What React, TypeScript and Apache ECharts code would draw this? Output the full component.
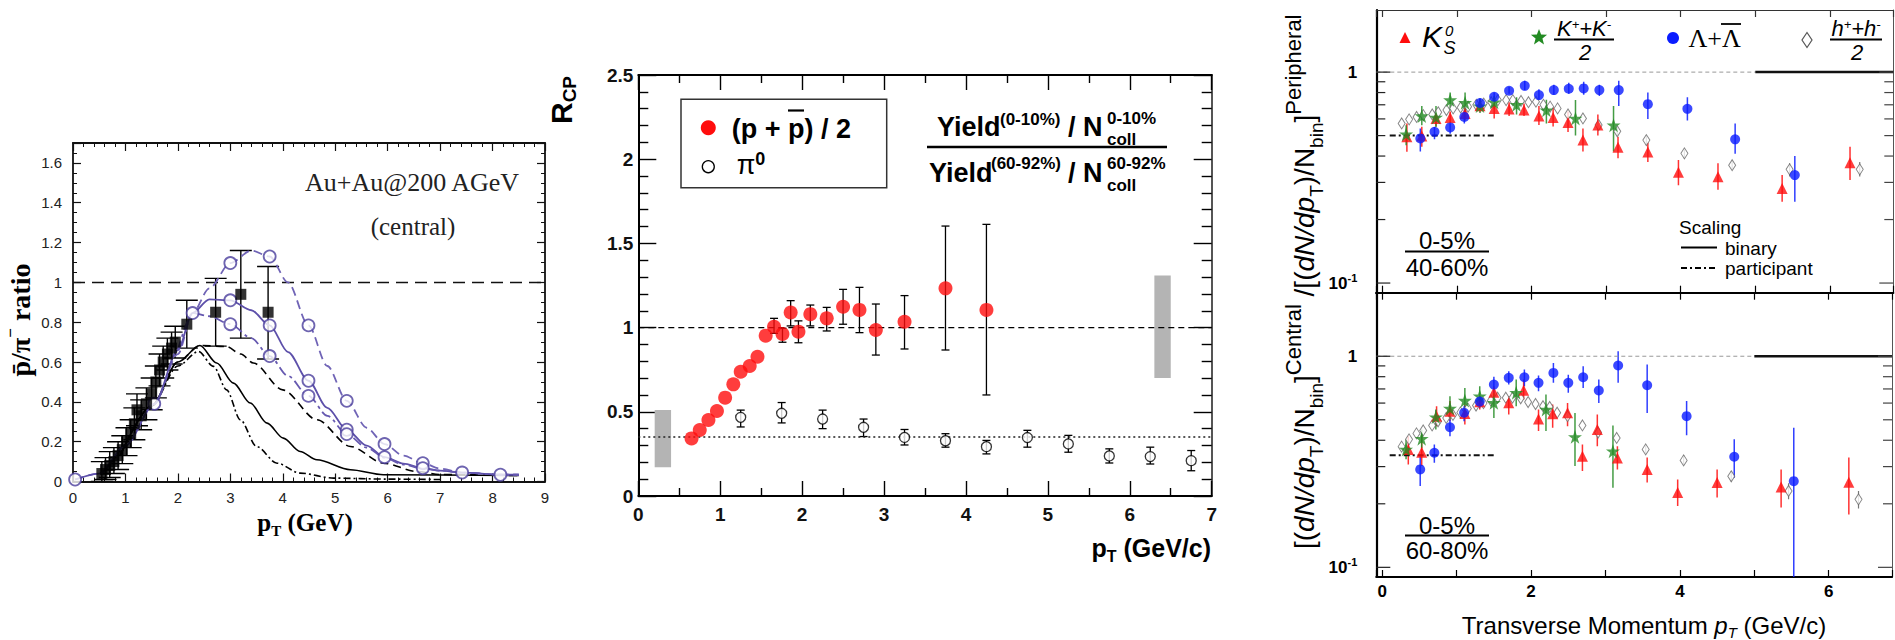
import React, { useEffect, useRef } from "react";
import * as echarts from "echarts";

const SANS = '"Liberation Sans", Arial, Helvetica, sans-serif';
const SERIF = '"Liberation Serif", "Times New Roman", serif';

// ================= Panel 1 : pbar / pi- ratio =================
const P1_SQ_X = [0.55, 0.62, 0.7, 0.78, 0.86, 0.94, 1.02, 1.1, 1.17, 1.22, 1.3, 1.4, 1.5, 1.58, 1.65, 1.72, 1.8, 1.88, 1.95, 2.17, 2.72, 3.2, 3.72];
const P1_SQ_Y = [0.04, 0.06, 0.08, 0.1, 0.13, 0.16, 0.2, 0.24, 0.29, 0.36, 0.33, 0.39, 0.44, 0.5, 0.56, 0.6, 0.64, 0.67, 0.7, 0.79, 0.85, 0.94, 0.85];
const P1_SQ_LO = [0.0, 0.01, 0.02, 0.04, 0.06, 0.09, 0.13, 0.17, 0.21, 0.28, 0.26, 0.31, 0.36, 0.42, 0.48, 0.52, 0.56, 0.59, 0.62, 0.67, 0.68, 0.72, 0.615];
const P1_SQ_HI = [0.1, 0.12, 0.15, 0.17, 0.2, 0.23, 0.27, 0.31, 0.37, 0.44, 0.41, 0.47, 0.52, 0.58, 0.64, 0.68, 0.72, 0.75, 0.78, 0.91, 1.02, 1.16, 1.08];

const P1_PU_X = [0.04, 0.5, 1.0, 1.55, 2.0, 2.28, 2.6, 3.0, 3.4, 3.75, 4.1, 4.49, 4.85, 5.22, 5.6, 5.94, 6.3, 6.67, 7.0, 7.42, 8.15, 8.5];
const P1_PUP_Y = [0.01, 0.04, 0.18, 0.39, 0.64, 0.846, 0.97, 1.097, 1.16, 1.13, 1.0, 0.784, 0.58, 0.405, 0.27, 0.188, 0.13, 0.092, 0.065, 0.045, 0.034, 0.034];
const P1_PMID_Y = [0.01, 0.04, 0.18, 0.39, 0.66, 0.846, 0.915, 0.91, 0.86, 0.784, 0.65, 0.506, 0.37, 0.26, 0.18, 0.122, 0.09, 0.067, 0.055, 0.045, 0.034, 0.034];
const P1_PLOW_X = [2.0, 2.28, 2.6, 3.0, 3.4, 3.75, 4.1, 4.49, 4.85, 5.22, 5.6, 5.94, 6.3, 6.67, 7.0, 7.42, 8.15, 8.5];
const P1_PLOW_Y = [0.66, 0.846, 0.83, 0.79, 0.72, 0.63, 0.53, 0.43, 0.33, 0.238, 0.17, 0.12, 0.085, 0.065, 0.055, 0.045, 0.034, 0.034];
const P1_MK_X = [0.04, 1.55, 2.28, 3.0, 3.0, 3.0, 3.75, 3.75, 3.75, 4.49, 4.49, 4.49, 5.22, 5.22, 5.22, 5.94, 5.94, 6.67, 6.67, 7.42, 8.15];
const P1_MK_Y = [0.01, 0.39, 0.846, 1.097, 0.91, 0.79, 1.13, 0.784, 0.63, 0.784, 0.506, 0.43, 0.405, 0.26, 0.238, 0.188, 0.122, 0.092, 0.067, 0.045, 0.034];

const P1_BD_X = [0.9, 1.5, 2.0, 2.42, 2.93, 3.2, 3.44, 4.0, 4.65, 5.29, 5.92, 6.56, 7.0, 8.5];
const P1_BD_Y = [0.13, 0.38, 0.6, 0.683, 0.678, 0.64, 0.595, 0.46, 0.31, 0.176, 0.092, 0.05, 0.035, 0.03];
const P1_BS_X = [0.9, 1.5, 2.0, 2.42, 2.74, 3.06, 3.38, 3.7, 4.01, 4.33, 4.65, 5.29, 5.92, 8.5];
const P1_BS_Y = [0.13, 0.38, 0.6, 0.683, 0.595, 0.494, 0.394, 0.293, 0.218, 0.151, 0.109, 0.059, 0.034, 0.03];
const P1_BDD_X = [0.9, 1.5, 2.0, 2.39, 2.68, 2.93, 3.19, 3.5, 3.89, 4.33, 4.97, 6.0, 7.0];
const P1_BDD_Y = [0.13, 0.38, 0.58, 0.653, 0.578, 0.46, 0.31, 0.176, 0.092, 0.042, 0.017, 0.012, 0.01];
const P1_REF_X = [0, 9];
const P1_REF_Y = [1, 1];

// ================= Panel 2 : R_CP =================
const P2_P_X = [0.65, 0.75, 0.856, 0.96, 1.06, 1.16, 1.25, 1.36, 1.455, 1.555, 1.657, 1.76, 1.86, 1.955, 2.1, 2.3, 2.5, 2.7, 2.9, 3.25, 3.75, 4.25];
const P2_P_Y = [0.342, 0.392, 0.451, 0.505, 0.584, 0.663, 0.738, 0.772, 0.827, 0.952, 1.005, 0.962, 1.09, 0.976, 1.08, 1.055, 1.124, 1.105, 0.986, 1.035, 1.233, 1.105];
const P2_P_LO = [0.342, 0.392, 0.451, 0.505, 0.584, 0.663, 0.738, 0.772, 0.827, 0.952, 0.966, 0.913, 1.01, 0.91, 1.01, 0.98, 1.02, 0.97, 0.837, 0.873, 0.867, 0.6];
const P2_P_HI = [0.342, 0.392, 0.451, 0.505, 0.584, 0.663, 0.738, 0.772, 0.827, 0.952, 1.055, 0.996, 1.16, 1.04, 1.134, 1.12, 1.227, 1.239, 1.14, 1.19, 1.603, 1.613];
const P2_PI_X = [1.25, 1.75, 2.25, 2.75, 3.25, 3.75, 4.25, 4.75, 5.25, 5.75, 6.25, 6.75];
const P2_PI_Y = [0.467, 0.491, 0.457, 0.408, 0.348, 0.328, 0.293, 0.347, 0.309, 0.238, 0.234, 0.21];
const P2_PI_LO = [0.41, 0.434, 0.4, 0.353, 0.303, 0.29, 0.25, 0.29, 0.26, 0.196, 0.19, 0.15];
const P2_PI_HI = [0.51, 0.555, 0.51, 0.457, 0.395, 0.37, 0.33, 0.39, 0.36, 0.28, 0.29, 0.27];
const P2_SYS_X0 = [0.2, 6.3];
const P2_SYS_X1 = [0.4, 6.5];
const P2_SYS_Y0 = [0.17, 0.7];
const P2_SYS_Y1 = [0.51, 1.31];
const P2_ONE_X = [0, 7];
const P2_ONE_Y = [1, 1];
const P2_PI_REF_X = [0, 7];
const P2_PI_REF_Y = [0.35, 0.35];

// ================= Panel 3 : strange particles (log) =================
const X3_MIN = -0.08;
const X3_MAX = 6.85;
const LOG_TICKS = [0.1, 0.2, 0.3, 0.4, 0.5, 0.6, 0.7, 0.8, 0.9, 1];

// top: 0-5% / 40-60%
const T_K0_X = [0.33, 0.53, 0.72, 0.91, 1.11, 1.31, 1.5, 1.7, 1.9, 2.1, 2.29, 2.49, 2.69, 2.89, 3.16, 3.56, 3.97, 4.5, 5.36, 6.27];
const T_K0_Y = [0.494, 0.498, 0.603, 0.61, 0.637, 0.692, 0.673, 0.668, 0.661, 0.619, 0.61, 0.577, 0.476, 0.561, 0.44, 0.418, 0.335, 0.319, 0.281, 0.372];
const T_K0_LO = [0.419, 0.443, 0.553, 0.57, 0.59, 0.65, 0.603, 0.62, 0.62, 0.561, 0.553, 0.52, 0.42, 0.5, 0.39, 0.375, 0.291, 0.277, 0.243, 0.308];
const T_K0_HI = [0.571, 0.551, 0.661, 0.65, 0.69, 0.74, 0.737, 0.72, 0.71, 0.69, 0.68, 0.65, 0.54, 0.63, 0.494, 0.463, 0.383, 0.37, 0.325, 0.443];
const T_KC_X = [0.32, 0.53, 0.72, 0.91, 1.11, 1.31, 1.5, 1.8, 2.2, 2.59, 3.1];
const T_KC_Y = [0.508, 0.619, 0.61, 0.737, 0.716, 0.69, 0.72, 0.7, 0.66, 0.603, 0.56];
const T_KC_LO = [0.45, 0.56, 0.55, 0.66, 0.64, 0.64, 0.67, 0.63, 0.57, 0.5, 0.42];
const T_KC_HI = [0.56, 0.69, 0.69, 0.8, 0.8, 0.75, 0.77, 0.76, 0.74, 0.737, 0.69];
const T_LA_X = [0.51, 0.7, 0.91, 1.1, 1.31, 1.5, 1.7, 1.91, 2.1, 2.3, 2.5, 2.7, 2.91, 3.17, 3.56, 4.09, 4.73, 5.53];
const T_LA_Y = [0.485, 0.521, 0.547, 0.613, 0.714, 0.764, 0.816, 0.861, 0.778, 0.822, 0.834, 0.837, 0.822, 0.822, 0.705, 0.67, 0.48, 0.325];
const T_LA_LO = [0.42, 0.48, 0.51, 0.57, 0.68, 0.72, 0.79, 0.82, 0.74, 0.78, 0.79, 0.78, 0.77, 0.69, 0.6, 0.59, 0.41, 0.243];
const T_LA_HI = [0.54, 0.55, 0.57, 0.66, 0.75, 0.8, 0.85, 0.91, 0.83, 0.87, 0.89, 0.9, 0.87, 0.91, 0.8, 0.76, 0.57, 0.4];
const H_X = [0.26, 0.36, 0.46, 0.55, 0.67, 0.75, 0.86, 0.95, 1.05, 1.15, 1.26, 1.36, 1.46, 1.55, 1.66, 1.75, 1.86, 1.96, 2.06, 2.16, 2.25, 2.35, 2.49, 2.69, 2.9, 3.15, 3.54, 4.05, 4.69, 5.46, 6.4];
const T_H_Y = [0.571, 0.597, 0.613, 0.625, 0.63, 0.645, 0.661, 0.673, 0.68, 0.686, 0.7, 0.709, 0.72, 0.737, 0.737, 0.737, 0.73, 0.72, 0.724, 0.7, 0.686, 0.673, 0.63, 0.603, 0.561, 0.524, 0.476, 0.412, 0.362, 0.346, 0.346];
const T_HE_X = [3.15, 3.54, 4.05, 4.69, 5.46, 6.4];
const T_HE_LO = [0.5, 0.45, 0.39, 0.345, 0.32, 0.32];
const T_HE_HI = [0.55, 0.5, 0.43, 0.38, 0.37, 0.375];
const T_PART_X = [0.1, 1.5];
const T_PART_Y = [0.5, 0.5];

// bottom: 0-5% / 60-80%
const B_K0_X = [0.35, 0.53, 0.73, 0.91, 1.11, 1.31, 1.5, 1.7, 1.9, 2.1, 2.29, 2.49, 2.69, 2.89, 3.16, 3.56, 3.97, 4.5, 5.36, 6.27];
const B_K0_Y = [0.362, 0.351, 0.52, 0.549, 0.535, 0.608, 0.676, 0.602, 0.69, 0.505, 0.534, 0.54, 0.336, 0.45, 0.33, 0.291, 0.226, 0.252, 0.24, 0.253];
const B_K0_LO = [0.307, 0.302, 0.466, 0.492, 0.475, 0.56, 0.635, 0.53, 0.624, 0.442, 0.458, 0.466, 0.286, 0.375, 0.291, 0.252, 0.195, 0.214, 0.192, 0.178];
const B_K0_HI = [0.418, 0.426, 0.58, 0.613, 0.59, 0.647, 0.721, 0.647, 0.776, 0.56, 0.59, 0.6, 0.382, 0.53, 0.375, 0.331, 0.261, 0.291, 0.291, 0.331];
const B_KC_X = [0.32, 0.53, 0.72, 0.91, 1.11, 1.31, 1.5, 1.8, 2.2, 2.59, 3.1];
const B_KC_Y = [0.362, 0.407, 0.515, 0.566, 0.617, 0.647, 0.602, 0.672, 0.56, 0.415, 0.355];
const B_KC_LO = [0.325, 0.368, 0.45, 0.501, 0.539, 0.58, 0.51, 0.58, 0.442, 0.302, 0.238];
const B_KC_HI = [0.404, 0.45, 0.56, 0.647, 0.708, 0.721, 0.671, 0.776, 0.659, 0.539, 0.47];
const B_LA_X = [0.51, 0.7, 0.91, 1.1, 1.31, 1.5, 1.7, 1.91, 2.1, 2.3, 2.5, 2.7, 2.91, 3.17, 3.56, 4.09, 4.73, 5.53];
const B_LA_Y = [0.291, 0.349, 0.461, 0.54, 0.61, 0.734, 0.79, 0.795, 0.748, 0.834, 0.748, 0.795, 0.688, 0.904, 0.729, 0.52, 0.334, 0.256];
const B_LA_LO = [0.243, 0.313, 0.418, 0.492, 0.57, 0.671, 0.735, 0.721, 0.683, 0.748, 0.671, 0.708, 0.6, 0.748, 0.539, 0.422, 0.266, 0.08];
const B_LA_HI = [0.343, 0.382, 0.501, 0.58, 0.647, 0.799, 0.85, 0.865, 0.81, 0.93, 0.818, 0.897, 0.776, 1.056, 0.913, 0.613, 0.404, 0.458];
const B_H_Y = [0.373, 0.404, 0.431, 0.445, 0.47, 0.492, 0.51, 0.527, 0.542, 0.566, 0.584, 0.6, 0.617, 0.636, 0.636, 0.636, 0.632, 0.607, 0.594, 0.58, 0.575, 0.54, 0.52, 0.47, 0.435, 0.41, 0.362, 0.321, 0.27, 0.23, 0.21];
const B_HE_X = [3.54, 4.05, 4.69, 5.46, 6.4];
const B_HE_LO = [0.345, 0.305, 0.255, 0.21, 0.19];
const B_HE_HI = [0.38, 0.34, 0.285, 0.25, 0.23];
const B_PART_X = [0.1, 1.5];
const B_PART_Y = [0.34, 0.34];

const REF_DASH_X = [X3_MIN, 5.0];
const REF_SOLID_X = [5.0, X3_MAX];
const REF_Y = [1, 1];

// ================= helpers =================
const pairs = (xs: number[], ys: number[]) => xs.map((x, i) => [x, ys[i]]);

function errSeries(xi: number, yi: number, xs: number[], lo: number[], hi: number[], color: string, cap: number, width: number, opacity = 1) {
  return {
    type: "custom", xAxisIndex: xi, yAxisIndex: yi, silent: true, z: 2, clip: true,
    data: xs.map((x, i) => [x, lo[i], hi[i]]),
    encode: { x: 0, y: [1, 2] },
    renderItem: (_p: any, api: any) => {
      const x = api.value(0), l = api.value(1), h = api.value(2);
      if (l === h) return { type: "group", children: [] };
      const a = api.coord([x, l]), b = api.coord([x, h]);
      const style = { stroke: color, lineWidth: width, opacity };
      const ch: any[] = [{ type: "line", shape: { x1: a[0], y1: a[1], x2: b[0], y2: b[1] }, style }];
      if (cap > 0) {
        ch.push({ type: "line", shape: { x1: a[0] - cap, y1: a[1], x2: a[0] + cap, y2: a[1] }, style });
        ch.push({ type: "line", shape: { x1: b[0] - cap, y1: b[1], x2: b[0] + cap, y2: b[1] }, style });
      }
      return { type: "group", children: ch };
    },
  };
}

function scat(xi: number, yi: number, xs: number[], ys: number[], symbol: string, size: any, itemStyle: any, z = 4) {
  return { type: "scatter", xAxisIndex: xi, yAxisIndex: yi, symbol, symbolSize: size, itemStyle, z, silent: true, data: pairs(xs, ys) };
}

function lineS(xi: number, yi: number, xs: number[], ys: number[], color: string, width: number, type: any, smooth: any = false, z = 3) {
  return {
    type: "line", xAxisIndex: xi, yAxisIndex: yi, silent: true, z, symbol: "none", smooth, smoothMonotone: "x",
    lineStyle: { color, width, type }, data: pairs(xs, ys),
  };
}

function logTicks(xi: number, yi: number) {
  return {
    type: "custom", xAxisIndex: xi, yAxisIndex: yi, silent: true, z: 6, clip: false,
    data: LOG_TICKS.map((v) => [X3_MIN, v]),
    renderItem: (_p: any, api: any) => {
      const v = api.value(1);
      const major = Math.abs(v - 1) < 1e-9 || Math.abs(v - 0.1) < 1e-9;
      const len = major ? 14 : 9;
      const a = api.coord([X3_MIN, v]);
      const b = api.coord([X3_MAX, v]);
      return {
        type: "group",
        children: [
          { type: "line", shape: { x1: a[0], y1: a[1], x2: a[0] + len, y2: a[1] }, style: { stroke: "#222", lineWidth: 1.2 } },
          { type: "line", shape: { x1: b[0], y1: b[1], x2: b[0] - len, y2: b[1] }, style: { stroke: "#444", lineWidth: 1.2 } },
        ],
      };
    },
  };
}

function boxSeries(xi: number, yi: number) {
  return {
    type: "custom", xAxisIndex: xi, yAxisIndex: yi, silent: true, z: 1,
    data: P2_SYS_X0.map((x, i) => [x, P2_SYS_Y0[i], P2_SYS_X1[i], P2_SYS_Y1[i]]),
    renderItem: (_p: any, api: any) => {
      const a = api.coord([api.value(0), api.value(3)]);
      const b = api.coord([api.value(2), api.value(1)]);
      return { type: "rect", shape: { x: a[0], y: a[1], width: b[0] - a[0], height: b[1] - a[1] }, style: { fill: "#b4b4b4" } };
    },
  };
}

const T = (x: number, y: number, text: string, style: any = {}, rotation = 0) => ({
  type: "text", x, y, rotation, silent: true, z: 100,
  style: { text, fill: "#000", fontFamily: SANS, fontSize: 16, align: "left", verticalAlign: "middle", ...style },
});
const L = (x1: number, y1: number, x2: number, y2: number, w = 1.5, dash: any = null, color = "#000") => ({
  type: "line", silent: true, z: 100, shape: { x1, y1, x2, y2 }, style: { stroke: color, lineWidth: w, lineDash: dash },
});

function starPts(cx: number, cy: number, R: number, r: number) {
  const pts: number[][] = [];
  for (let i = 0; i < 10; i++) {
    const ang = -Math.PI / 2 + (i * Math.PI) / 5;
    const rad = i % 2 === 0 ? R : r;
    pts.push([cx + rad * Math.cos(ang), cy + rad * Math.sin(ang)]);
  }
  return pts;
}

const STAR = "path://M12,0 L14.9,8.6 L24,8.6 L16.6,14 L19.4,22.7 L12,17.3 L4.6,22.7 L7.4,14 L0,8.6 L9.1,8.6 Z";
const RED = "#ff0d0d";
const GREEN = "#238b23";
const BLUE = "#0a1cff";
const PURPLE = "#5d50aa";

function buildOption() {
  const noSplit = { splitLine: { show: false }, minorSplitLine: { show: false } };
  const line = (w: number, c = "#000") => ({ show: true, onZero: false, lineStyle: { color: c, width: w } });

  const p1Tick = { show: true, inside: true, length: 8, lineStyle: { color: "#111", width: 1.2 } };
  const p1Lab = { margin: 8, fontSize: 15, color: "#222", fontFamily: SANS };
  const p2Tick = (len: number) => ({ show: true, inside: true, length: len, lineStyle: { color: "#000", width: 1.4 } });
  const p2Lab = { margin: 9, fontSize: 19, fontWeight: "bold", color: "#111", fontFamily: SANS };
  const p3xfmt = (v: number) => {
    const r = Math.round(v);
    return Math.abs(v - r) < 1e-6 && r % 2 === 0 ? String(Math.abs(r)) : "";
  };
  const logFmt = (v: number) => {
    if (Math.abs(v - 1) < 1e-6) return "{a|1}";
    if (Math.abs(v - 0.1) < 1e-6) return "{a|10}{b|-1}";
    return "";
  };
  const logRich = {
    a: { fontSize: 17, fontWeight: "bold", fontFamily: SANS, color: "#000", lineHeight: 22 },
    b: { fontSize: 11, fontWeight: "bold", fontFamily: SANS, color: "#000", verticalAlign: "top", lineHeight: 12 },
  };

  const xAxis = [
    { gridIndex: 0, type: "value", position: "bottom", min: 0, max: 9, interval: 1, axisLine: line(1.8, "#111"), axisTick: p1Tick,
      minorTick: { show: true, splitNumber: 5, length: 4, lineStyle: { color: "#111", width: 1 } }, axisLabel: p1Lab, ...noSplit },
    { gridIndex: 0, type: "value", position: "top", min: 0, max: 9, interval: 1, axisLine: line(1.8, "#111"), axisTick: p1Tick,
      minorTick: { show: true, splitNumber: 5, length: 4, lineStyle: { color: "#111", width: 1 } }, axisLabel: { show: false }, ...noSplit },
    { gridIndex: 1, type: "value", position: "bottom", min: 0, max: 7, interval: 1, axisLine: line(2), axisTick: p2Tick(15),
      minorTick: { show: true, splitNumber: 2, length: 8, lineStyle: { color: "#000", width: 1.4 } }, axisLabel: p2Lab, ...noSplit },
    { gridIndex: 1, type: "value", position: "top", min: 0, max: 7, interval: 1, axisLine: line(2), axisTick: p2Tick(15),
      minorTick: { show: true, splitNumber: 2, length: 8, lineStyle: { color: "#000", width: 1.4 } }, axisLabel: { show: false }, ...noSplit },
    { gridIndex: 2, type: "value", position: "bottom", min: X3_MIN, max: X3_MAX, splitNumber: 7, axisLine: line(2.2),
      axisTick: { show: true, inside: true, length: 7, lineStyle: { color: "#000", width: 1.2 } }, axisLabel: { show: false }, ...noSplit },
    { gridIndex: 2, type: "value", position: "top", min: X3_MIN, max: X3_MAX, splitNumber: 7, axisLine: line(1, "#333"),
      axisTick: { show: true, inside: true, length: 7, lineStyle: { color: "#333", width: 1.2 } }, axisLabel: { show: false }, ...noSplit },
    { gridIndex: 3, type: "value", position: "bottom", min: X3_MIN, max: X3_MAX, splitNumber: 7, axisLine: line(2.2),
      axisTick: { show: true, inside: true, length: 7, lineStyle: { color: "#000", width: 1.2 } },
      axisLabel: { margin: 6, fontSize: 17, fontWeight: "bold", color: "#000", fontFamily: SANS, formatter: p3xfmt }, ...noSplit },
    { gridIndex: 3, type: "value", position: "top", min: X3_MIN, max: X3_MAX, splitNumber: 7, axisLine: line(2.2),
      axisTick: { show: true, inside: true, length: 7, lineStyle: { color: "#000", width: 1.2 } }, axisLabel: { show: false }, ...noSplit },
  ];

  const yAxis = [
    { gridIndex: 0, type: "value", position: "left", min: 0, max: 1.7, interval: 0.2, axisLine: line(1.8, "#111"), axisTick: p1Tick,
      minorTick: { show: true, splitNumber: 4, length: 4, lineStyle: { color: "#111", width: 1 } },
      axisLabel: { ...p1Lab, margin: 11, formatter: (v: number) => (Math.abs(v - 1.7) < 1e-6 ? "" : String(Math.round(v * 10) / 10)) }, ...noSplit },
    { gridIndex: 0, type: "value", position: "right", min: 0, max: 1.7, interval: 0.2, axisLine: line(1.8, "#111"), axisTick: p1Tick,
      minorTick: { show: true, splitNumber: 4, length: 4, lineStyle: { color: "#111", width: 1 } }, axisLabel: { show: false }, ...noSplit },
    { gridIndex: 1, type: "value", position: "left", min: 0, max: 2.5, interval: 0.5, axisLine: line(2), axisTick: p2Tick(18),
      minorTick: { show: true, splitNumber: 5, length: 10, lineStyle: { color: "#000", width: 1.4 } }, axisLabel: { ...p2Lab, margin: 5 }, ...noSplit },
    { gridIndex: 1, type: "value", position: "right", min: 0, max: 2.5, interval: 0.5, axisLine: line(2, "#555"), axisTick: p2Tick(18),
      minorTick: { show: true, splitNumber: 5, length: 10, lineStyle: { color: "#000", width: 1.4 } }, axisLabel: { show: false }, ...noSplit },
    { gridIndex: 2, type: "log", logBase: 10, position: "left", min: 0.09, max: 1.97, axisLine: line(2.2), axisTick: { show: false },
      axisLabel: { margin: 19, formatter: logFmt, rich: logRich, showMinLabel: false, showMaxLabel: false }, ...noSplit },
    { gridIndex: 2, type: "log", logBase: 10, position: "right", min: 0.09, max: 1.97, axisLine: line(1, "#555"), axisTick: { show: false },
      axisLabel: { show: false }, ...noSplit },
    { gridIndex: 3, type: "log", logBase: 10, position: "left", min: 0.09, max: 2.0, axisLine: line(2.2), axisTick: { show: false },
      axisLabel: { margin: 19, formatter: logFmt, rich: logRich, showMinLabel: false, showMaxLabel: false }, ...noSplit },
    { gridIndex: 3, type: "log", logBase: 10, position: "right", min: 0.09, max: 2.0, axisLine: line(1, "#555"), axisTick: { show: false },
      axisLabel: { show: false }, ...noSplit },
  ];

  const series: any[] = [
    // ---- panel 1
    lineS(0, 0, P1_REF_X, P1_REF_Y, "#111", 1.5, [12, 7]),
    lineS(0, 0, P1_BD_X, P1_BD_Y, "#000", 1.6, [8, 5], 0.3),
    lineS(0, 0, P1_BS_X, P1_BS_Y, "#000", 1.6, "solid", 0.3),
    lineS(0, 0, P1_BDD_X, P1_BDD_Y, "#000", 1.6, [7, 3, 2, 3], 0.3),
    lineS(0, 0, P1_PU_X, P1_PUP_Y, "#7064b6", 1.8, [9, 5], 0.3),
    lineS(0, 0, P1_PU_X, P1_PMID_Y, PURPLE, 1.8, "solid", 0.3),
    lineS(0, 0, P1_PLOW_X, P1_PLOW_Y, "#6659b0", 1.8, [10, 4, 3, 4], 0.3),
    errSeries(0, 0, P1_SQ_X, P1_SQ_LO, P1_SQ_HI, "#000", 11, 1.4),
    scat(0, 0, P1_MK_X, P1_MK_Y, "circle", 12, { color: "#fff", borderColor: "#4a3d9c", borderWidth: 1.8 }),
    scat(0, 0, P1_SQ_X, P1_SQ_Y, "rect", 11, { color: "#000" }, 5),
    // ---- panel 2
    boxSeries(2, 2),
    lineS(2, 2, P2_ONE_X, P2_ONE_Y, "#000", 1.4, [6, 4]),
    lineS(2, 2, P2_PI_REF_X, P2_PI_REF_Y, "#222", 1.5, [2, 3]),
    errSeries(2, 2, P2_P_X, P2_P_LO, P2_P_HI, "#000", 4, 1.3),
    errSeries(2, 2, P2_PI_X, P2_PI_LO, P2_PI_HI, "#000", 4, 1.3),
    scat(2, 2, P2_PI_X, P2_PI_Y, "circle", 10, { color: "#fff", borderColor: "#000", borderWidth: 1.3 }),
    scat(2, 2, P2_P_X, P2_P_Y, "circle", 14, { color: RED }, 5),
    // ---- panel 3 top
    logTicks(4, 4),
    lineS(4, 4, REF_DASH_X, REF_Y, "#999", 1, [4, 3]),
    lineS(4, 4, REF_SOLID_X, REF_Y, "#111", 2.5, "solid"),
    lineS(4, 4, T_PART_X, T_PART_Y, "#111", 2, [6, 3, 2, 3]),
    errSeries(4, 4, T_HE_X, T_HE_LO, T_HE_HI, "#777", 0, 1.2),
    errSeries(4, 4, T_K0_X, T_K0_LO, T_K0_HI, RED, 0, 1.5, 0.85),
    errSeries(4, 4, T_KC_X, T_KC_LO, T_KC_HI, GREEN, 0, 1.5, 0.85),
    errSeries(4, 4, T_LA_X, T_LA_LO, T_LA_HI, BLUE, 0, 1.5, 0.85),
    scat(4, 4, H_X, T_H_Y, "diamond", [7, 11], { color: "#fff", borderColor: "#666", borderWidth: 1 }),
    scat(4, 4, T_K0_X, T_K0_Y, "triangle", 11, { color: RED }),
    scat(4, 4, T_KC_X, T_KC_Y, STAR, 14, { color: GREEN }),
    scat(4, 4, T_LA_X, T_LA_Y, "circle", 10, { color: BLUE }),
    // ---- panel 3 bottom
    logTicks(6, 6),
    lineS(6, 6, REF_DASH_X, REF_Y, "#999", 1, [4, 3]),
    lineS(6, 6, REF_SOLID_X, REF_Y, "#111", 2.5, "solid"),
    lineS(6, 6, B_PART_X, B_PART_Y, "#111", 2, [6, 3, 2, 3]),
    errSeries(6, 6, B_HE_X, B_HE_LO, B_HE_HI, "#777", 0, 1.2),
    errSeries(6, 6, B_K0_X, B_K0_LO, B_K0_HI, RED, 0, 1.5, 0.85),
    errSeries(6, 6, B_KC_X, B_KC_LO, B_KC_HI, GREEN, 0, 1.5, 0.85),
    errSeries(6, 6, B_LA_X, B_LA_LO, B_LA_HI, BLUE, 0, 1.5, 0.85),
    scat(6, 6, H_X, B_H_Y, "diamond", [7, 11], { color: "#fff", borderColor: "#666", borderWidth: 1 }),
    scat(6, 6, B_K0_X, B_K0_Y, "triangle", 11, { color: RED }),
    scat(6, 6, B_KC_X, B_KC_Y, STAR, 14, { color: GREEN }),
    scat(6, 6, B_LA_X, B_LA_Y, "circle", 10, { color: BLUE }),
  ];

  const graphic: any[] = [
    // ---- panel 1 texts
    T(305, 182, "Au+Au@200 AGeV", { fontFamily: SERIF, fontSize: 26, fill: "#222" }),
    T(413, 226, "(central)", { fontFamily: SERIF, fontSize: 25, fill: "#222", align: "center" }),
    T(20, 320, "{a|p\u0304/\u03c0}{s|\u2212}{a| ratio}", {
      align: "center",
      rich: {
        a: { fontFamily: SERIF, fontSize: 28, fontWeight: "bold", lineHeight: 36 },
        s: { fontFamily: SERIF, fontSize: 17, fontWeight: "bold", verticalAlign: "top", lineHeight: 17 },
      },
    }, Math.PI / 2),
    T(305, 522, "{a|p}{s|T}{a| (GeV)}", {
      align: "center",
      rich: {
        a: { fontFamily: SERIF, fontSize: 25, fontWeight: "bold", lineHeight: 32 },
        s: { fontFamily: SERIF, fontSize: 15, fontWeight: "bold", verticalAlign: "bottom", lineHeight: 16 },
      },
    }),
    // ---- panel 2 texts
    T(561, 100, "{a|R}{s|CP}", {
      align: "center",
      rich: {
        a: { fontFamily: SANS, fontSize: 30, fontWeight: "bold", lineHeight: 36 },
        s: { fontFamily: SANS, fontSize: 19, fontWeight: "bold", verticalAlign: "bottom", lineHeight: 18 },
      },
    }, Math.PI / 2),
    { type: "rect", z: 90, silent: true, shape: { x: 681, y: 99.3, width: 205.7, height: 88.4 }, style: { fill: "#fff", stroke: "#333", lineWidth: 1.5 } },
    { type: "circle", z: 100, silent: true, shape: { cx: 708.3, cy: 127.7, r: 7.5 }, style: { fill: RED } },
    T(731.7, 129, "(p + p) / 2", { fontSize: 27, fontWeight: "bold" }),
    L(788, 110.5, 804, 110.5, 2.2),
    { type: "circle", z: 100, silent: true, shape: { cx: 708.3, cy: 166.7, r: 6 }, style: { fill: "#fff", stroke: "#000", lineWidth: 1.3 } },
    T(736.7, 165, "{a|\u03c0}{s|0}", {
      rich: {
        a: { fontFamily: SANS, fontSize: 27, lineHeight: 30 },
        s: { fontFamily: SANS, fontSize: 18, fontWeight: "bold", verticalAlign: "top", lineHeight: 18 },
      },
    }),
    T(937, 127, "Yield", { fontSize: 27, fontWeight: "bold" }),
    T(1000, 119, "(0-10%)", { fontSize: 17, fontWeight: "bold" }),
    T(1068, 127, "/ N", { fontSize: 27, fontWeight: "bold" }),
    T(1107, 118, "0-10%", { fontSize: 17, fontWeight: "bold" }),
    T(1107, 139, "coll", { fontSize: 17, fontWeight: "bold" }),
    L(927, 147, 1167, 147, 2.5),
    T(929, 173, "Yield", { fontSize: 27, fontWeight: "bold" }),
    T(991, 163, "(60-92%)", { fontSize: 17, fontWeight: "bold" }),
    T(1068, 173, "/ N", { fontSize: 27, fontWeight: "bold" }),
    T(1107, 163, "60-92%", { fontSize: 17, fontWeight: "bold" }),
    T(1107, 185, "coll", { fontSize: 17, fontWeight: "bold" }),
    T(1211, 548, "{a|p}{s|T}{a| (GeV/c)}", {
      align: "right",
      rich: {
        a: { fontFamily: SANS, fontSize: 25, fontWeight: "bold", lineHeight: 32 },
        s: { fontFamily: SANS, fontSize: 16, fontWeight: "bold", verticalAlign: "bottom", lineHeight: 16 },
      },
    }),
    // ---- panel 3 legend
    { type: "polygon", z: 100, silent: true, shape: { points: [[1405, 32], [1399.5, 43], [1410.5, 43]] }, style: { fill: RED } },
    T(1422, 36, "K", { fontSize: 30, fontStyle: "italic" }),
    T(1445, 30, "0", { fontSize: 15, fontStyle: "italic" }),
    T(1443.5, 47.5, "S", { fontSize: 18, fontStyle: "italic" }),
    { type: "polygon", z: 100, silent: true, shape: { points: starPts(1539, 37.5, 8.5, 3.6) }, style: { fill: GREEN } },
    T(1584, 28.5, "{m|K}{s|+}{m|+K}{s|-}", {
      align: "center",
      rich: {
        m: { fontFamily: SANS, fontSize: 22, fontStyle: "italic", lineHeight: 22 },
        s: { fontFamily: SANS, fontSize: 13, fontStyle: "italic", verticalAlign: "top", lineHeight: 13 },
      },
    }),
    L(1554, 39.5, 1614, 39.5, 2),
    T(1585, 52, "2", { fontSize: 22, fontStyle: "italic", align: "center" }),
    { type: "circle", z: 100, silent: true, shape: { cx: 1673, cy: 38, r: 6 }, style: { fill: BLUE } },
    T(1688.4, 38, "\u039b+\u039b", { fontFamily: SERIF, fontSize: 26 }),
    L(1721, 24, 1741, 24, 1.8),
    { type: "polygon", z: 100, silent: true, shape: { points: [[1807, 32.5], [1812, 40], [1807, 47.5], [1802, 40]] }, style: { fill: "#fff", stroke: "#555", lineWidth: 1.2 } },
    T(1856, 28.5, "{m|h}{s|+}{m|+h}{s|-}", {
      align: "center",
      rich: {
        m: { fontFamily: SANS, fontSize: 22, fontStyle: "italic", lineHeight: 22 },
        s: { fontFamily: SANS, fontSize: 13, fontStyle: "italic", verticalAlign: "top", lineHeight: 13 },
      },
    }),
    L(1830, 39.5, 1882, 39.5, 2),
    T(1857, 52, "2", { fontSize: 22, fontStyle: "italic", align: "center" }),
    // centrality labels
    T(1447, 240, "0-5%", { fontSize: 24, align: "center" }),
    L(1405, 251.5, 1489, 251.5, 2),
    T(1447, 267, "40-60%", { fontSize: 24, align: "center" }),
    T(1447, 525, "0-5%", { fontSize: 24, align: "center" }),
    L(1405, 535.5, 1489, 535.5, 2),
    T(1447, 550, "60-80%", { fontSize: 24, align: "center" }),
    // scaling legend
    T(1679, 227, "Scaling", { fontSize: 19 }),
    L(1681, 247.5, 1717, 247.5, 2),
    T(1725, 248, "binary", { fontSize: 19 }),
    L(1681, 268, 1717, 268, 2, [6, 3, 2, 3]),
    T(1725, 268, "participant", { fontSize: 19 }),
    // y title
    T(1304, 549, "{b|[(}{i|dN/dp}{sub|T}{b|)/N}{sub|bin}{b|]}{sup|Central}{b| /[(}{i|dN/dp}{sub|T}{b|)/N}{sub|bin}{b|]}{sup|Peripheral}", {
      align: "left",
      rich: {
        b: { fontFamily: SANS, fontSize: 28, lineHeight: 44 },
        i: { fontFamily: SANS, fontSize: 28, fontStyle: "italic", lineHeight: 44 },
        sub: { fontFamily: SANS, fontSize: 19, verticalAlign: "bottom", lineHeight: 22 },
        sup: { fontFamily: SANS, fontSize: 22, verticalAlign: "top", lineHeight: 24 },
      },
    }, Math.PI / 2),
    // x title
    T(1644, 625, "{a|Transverse Momentum }{i|p}{s|T}{a| (GeV/c)}", {
      align: "center",
      rich: {
        a: { fontFamily: SANS, fontSize: 24, lineHeight: 30 },
        i: { fontFamily: SANS, fontSize: 24, fontStyle: "italic", lineHeight: 30 },
        s: { fontFamily: SANS, fontSize: 15, fontStyle: "italic", verticalAlign: "bottom", lineHeight: 15 },
      },
    }),
  ];

  return {
    animation: false,
    backgroundColor: "#fff",
    grid: [
      { left: 73, top: 143, width: 472, height: 338.5 },
      { left: 638.3, top: 75, width: 573.4, height: 421 },
      { left: 1376.3, top: 10, width: 517, height: 282.7 },
      { left: 1376.3, top: 292.7, width: 517, height: 284.3 },
    ],
    xAxis,
    yAxis,
    series,
    graphic,
  };
}

export default function App() {
  const ref = useRef<HTMLDivElement>(null);
  useEffect(() => {
    const chart = echarts.init(ref.current as HTMLDivElement, null, { renderer: "svg" });
    chart.setOption(buildOption() as any);
    return () => chart.dispose();
  }, []);
  return <div ref={ref} style={{ position: "fixed", left: 0, top: 0, width: 1895, height: 640, background: "#fff" }} />;
}
